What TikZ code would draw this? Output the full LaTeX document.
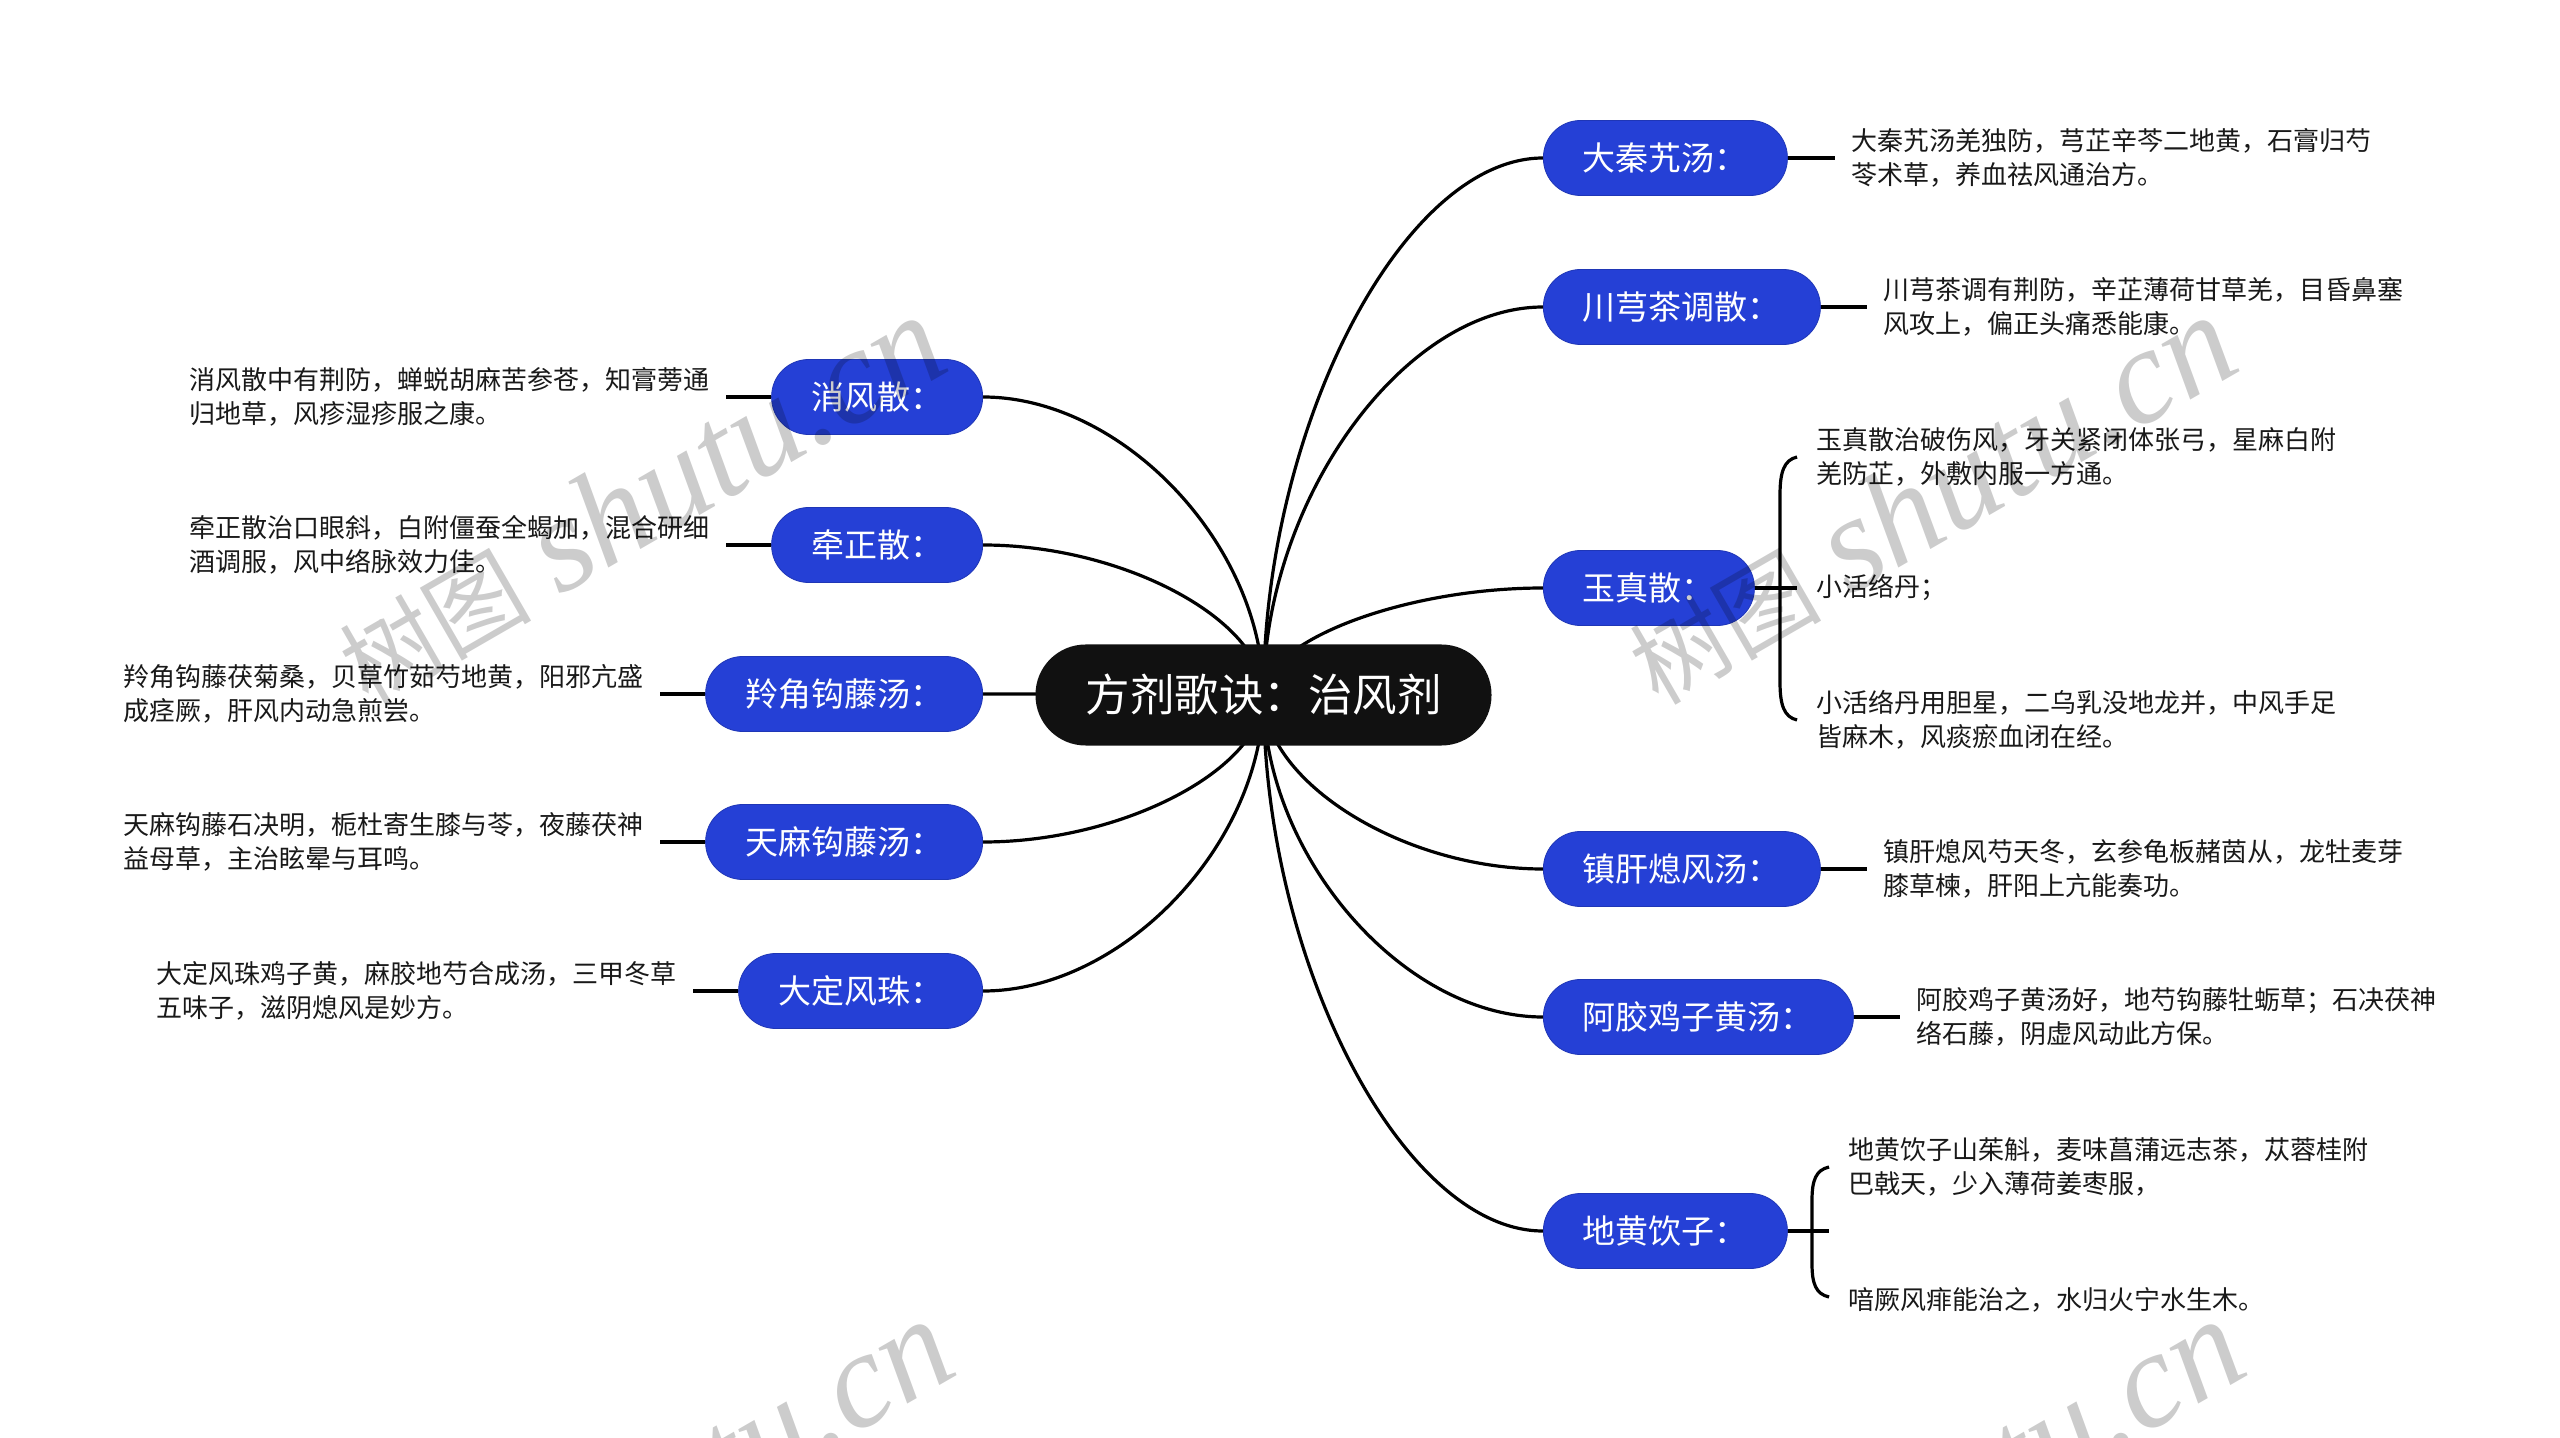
\documentclass[tikz,border=0pt]{standalone}
\usepackage{fontspec}
\setmainfont{Noto Sans CJK SC}
\newfontfamily\wmlatin{Liberation Serif}
\usetikzlibrary{calc}
\pgfdeclarelayer{background}
\pgfdeclarelayer{foreground}
\pgfsetlayers{background,main,foreground}
\definecolor{pillblue}{RGB}{37,64,214}
\definecolor{centerblack}{RGB}{17,17,17}
\newcommand\mmR[1]{\draw[curve] (c.center) .. controls ($(c.center)!0.5!(c.center |- #1.west)$) and ($(#1.west)!0.5!(c.center |- #1.west)$) .. (#1.west);}
\newcommand\mmL[1]{\draw[curve] (c.center) .. controls ($(c.center)!0.5!(c.center |- #1.east)$) and ($(#1.east)!0.5!(c.center |- #1.east)$) .. (#1.east);}
\newcommand\wmtext{{\fontsize{48pt}{52pt}\selectfont 树图}\hspace{14pt}{\wmlatin\itshape\fontsize{68pt}{72pt}\selectfont shutu.cn}}
\begin{document}
\begin{tikzpicture}[x=0.5pt,y=-0.5pt,
  centernode/.style={fill=centerblack, text=white, rounded corners=25pt, minimum height=50.5pt, inner xsep=25pt, inner ysep=0pt, font=\fontsize{22.25pt}{26pt}\selectfont},
  pill/.style={fill=pillblue, draw=pillblue!85!black, line width=0.4pt, text=white, rounded corners=18.5pt, minimum height=37.5pt, inner xsep=19.75pt, inner ysep=0pt, font=\fontsize{16.5pt}{20pt}\selectfont},
  detail/.style={align=left, inner sep=0pt, text=black!90, font=\fontsize{13pt}{17pt}\selectfont},
  curve/.style={line width=1.6pt, black},
  stub/.style={line width=2.4pt, black, shorten >=8pt},
  bracket/.style={line width=1.6pt, black},
  watermark/.style={rotate=30, text=black, text opacity=0.2, inner sep=0pt}
]
\clip (0,0) rectangle (2560,1438);

% center
\node[centernode] (c) at (1263.5,695) {方剂歌诀：治风剂};

% right pills
\node[pill, anchor=west] (r1) at (1543,158) {大秦艽汤：};
\node[pill, anchor=west] (r2) at (1543,307) {川芎茶调散：};
\node[pill, anchor=west] (r3) at (1543,588) {玉真散：};
\node[pill, anchor=west] (r4) at (1543,869) {镇肝熄风汤：};
\node[pill, anchor=west] (r5) at (1543,1017) {阿胶鸡子黄汤：};
\node[pill, anchor=west] (r6) at (1543,1231) {地黄饮子：};

% left pills
\node[pill, anchor=east] (l1) at (983,397) {消风散：};
\node[pill, anchor=east] (l2) at (983,545) {牵正散：};
\node[pill, anchor=east] (l3) at (983,694) {羚角钩藤汤：};
\node[pill, anchor=east] (l4) at (983,842) {天麻钩藤汤：};
\node[pill, anchor=east] (l5) at (983,991) {大定风珠：};

% right details
\node[detail, anchor=west] (t1) at ($(r1.east)+(63,0)$) {大秦艽汤羌独防，芎芷辛芩二地黄，石膏归芍\\苓术草，养血祛风通治方。};
\node[detail, anchor=west] (t2) at ($(r2.east)+(62,0)$) {川芎茶调有荆防，辛芷薄荷甘草羌，目昏鼻塞\\风攻上，偏正头痛悉能康。};
\node[detail, anchor=west] (t3a) at (1816,457) {玉真散治破伤风，牙关紧闭体张弓，星麻白附\\羌防芷，外敷内服一方通。};
\node[detail, anchor=west] (t3b) at (1816,588) {小活络丹；};
\node[detail, anchor=west] (t3c) at (1816,720) {小活络丹用胆星，二乌乳没地龙并，中风手足\\皆麻木，风痰瘀血闭在经。};
\node[detail, anchor=west] (t4) at ($(r4.east)+(62,0)$) {镇肝熄风芍天冬，玄参龟板赭茵从，龙牡麦芽\\膝草楝，肝阳上亢能奏功。};
\node[detail, anchor=west] (t5) at ($(r5.east)+(62,0)$) {阿胶鸡子黄汤好，地芍钩藤牡蛎草；石决茯神\\络石藤，阴虚风动此方保。};
\node[detail, anchor=west] (t6a) at (1848,1167) {地黄饮子山茱斛，麦味菖蒲远志茶，苁蓉桂附\\巴戟天，少入薄荷姜枣服，};
\node[detail, anchor=west] (t6b) at (1848,1300) {喑厥风痱能治之，水归火宁水生木。};

% left details
\node[detail, anchor=east] (s1) at ($(l1.west)+(-61,0)$) {消风散中有荆防，蝉蜕胡麻苦参苍，知膏蒡通\\归地草，风疹湿疹服之康。};
\node[detail, anchor=east] (s2) at ($(l2.west)+(-61,0)$) {牵正散治口眼斜，白附僵蚕全蝎加，混合研细\\酒调服，风中络脉效力佳。};
\node[detail, anchor=east] (s3) at ($(l3.west)+(-61,0)$) {羚角钩藤茯菊桑，贝草竹茹芍地黄，阳邪亢盛\\成痉厥，肝风内动急煎尝。};
\node[detail, anchor=east] (s4) at ($(l4.west)+(-61,0)$) {天麻钩藤石决明，栀杜寄生膝与苓，夜藤茯神\\益母草，主治眩晕与耳鸣。};
\node[detail, anchor=east] (s5) at ($(l5.west)+(-61,0)$) {大定风珠鸡子黄，麻胶地芍合成汤，三甲冬草\\五味子，滋阴熄风是妙方。};

% junction coordinates for brackets
\coordinate (j3) at (1797,588);
\coordinate (j6) at (1829,1231);

\begin{pgfonlayer}{background}
  \fill[white] (0,0) rectangle (2560,1438);
  \mmR{r1}\mmR{r2}\mmR{r3}\mmR{r4}\mmR{r5}\mmR{r6}
  \mmL{l1}\mmL{l2}\mmL{l3}\mmL{l4}\mmL{l5}
  \draw[stub] (r1.east) -- (t1.west);
  \draw[stub] (r2.east) -- (t2.west);
  \draw[stub] (r4.east) -- (t4.west);
  \draw[stub] (r5.east) -- (t5.west);
  \draw[stub] (l1.west) -- (s1.east);
  \draw[stub] (l2.west) -- (s2.east);
  \draw[stub] (l3.west) -- (s3.east);
  \draw[stub] (l4.west) -- (s4.east);
  \draw[stub] (l5.west) -- (s5.east);
  \draw[stub, shorten >=0pt] (r3.east) -- (j3);
  \draw[stub, shorten >=0pt] (r6.east) -- (j6);
  \draw[bracket] (1797,457) .. controls (1784,460) and (1780,472) .. (1780,495) -- (1780,682) .. controls (1780,705) and (1784,717) .. (1797,720);
  \draw[bracket] (1829,1167) .. controls (1816,1170) and (1812,1180) .. (1812,1200) -- (1812,1264) .. controls (1812,1284) and (1816,1294) .. (1829,1297);
\end{pgfonlayer}

\begin{pgfonlayer}{foreground}
  \node[watermark] (w1) at (640,500) {\wmtext};
  \node[watermark] (w2) at (1930,500) {\wmtext};
  \node[watermark] (w3) at (648,1504) {\wmtext};
  \node[watermark] (w4) at (1938,1504) {\wmtext};
\end{pgfonlayer}
\end{tikzpicture}
\end{document}
